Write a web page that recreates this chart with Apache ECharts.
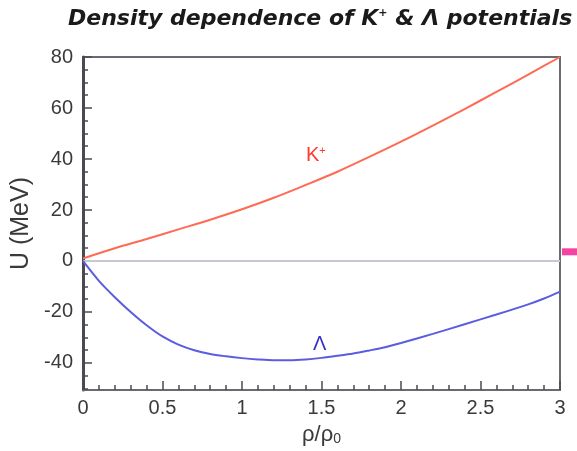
<!DOCTYPE html>
<html><head><meta charset="utf-8">
<script src="https://cdn.jsdelivr.net/npm/echarts@6/dist/echarts.min.js"></script>
<style>html,body{margin:0;padding:0;background:#fff}#c{width:577px;height:451px}</style>
</head><body><div id="c"></div>
<script>
// ---- data ----
var rhoK = [0, 0.2, 0.4, 0.6, 0.8, 1.0, 1.2, 1.4, 1.6, 1.8, 2.0, 2.2, 2.4, 2.6, 2.8, 3.0];
var kaonU = [1, 5, 8.6, 12.4, 16.2, 20.3, 24.8, 29.8, 35, 40.8, 46.8, 53.1, 59.6, 66.3, 73.1, 80];
var rhoL = [0, 0.1, 0.2, 0.3, 0.4, 0.5, 0.6, 0.7, 0.8, 0.9, 1.0, 1.1, 1.2, 1.3, 1.4, 1.5, 1.6, 1.7, 1.8, 1.9, 2.0, 2.2, 2.4, 2.6, 2.8, 2.9, 3.0];
var lambdaU = [0, -7.8, -14.2, -20, -25.2, -29.6, -32.8, -35, -36.5, -37.4, -38.1, -38.6, -38.9, -38.9, -38.6, -38.0, -37.2, -36.3, -35.1, -33.8, -32.2, -28.6, -24.8, -21.0, -17.0, -14.7, -12.0];
var markerPoint = [[3.0, 3.6]];
var xMajorTicks = [0, 0.5, 1, 1.5, 2, 2.5, 3];
var xMinorTicks = [0,0.1,0.2,0.3,0.4,0.5,0.6,0.7,0.8,0.9,1,1.1,1.2,1.3,1.4,1.5,1.6,1.7,1.8,1.9,2,2.1,2.2,2.3,2.4,2.5,2.6,2.7,2.8,2.9,3];
var yMajorTicks = [-40, -20, 0, 20, 40, 60, 80];
var yMinorTicks = [-50,-45,-40,-35,-30,-25,-20,-15,-10,-5,0,5,10,15,20,25,30,35,40,45,50,55,60,65,70,75,80];

function pairs(xs, ys){ return xs.map(function(x,i){return [x, ys[i]];}); }

var chart = echarts.init(document.getElementById('c'), null, {renderer:'canvas'});
var font = 'Liberation Sans, Arial, Helvetica, sans-serif';
var tfont = 'DejaVu Sans, Liberation Sans, sans-serif';
var axCol = '#4a4a52';
var xMin = 0, xMax = 3, yMin = -50.6, yMax = 80;

chart.setOption({
  animation: false,
  backgroundColor: '#ffffff',
  title: {
    text: 'Density dependence of K{sup|+} & Λ potentials',
    left: 63, top: 3,
    textStyle: {
      fontFamily: tfont, fontSize: 22, fontWeight: 'bold', fontStyle: 'italic', color: '#1a1a1a',
      rich: { sup: { fontFamily: tfont, fontSize: 11, fontWeight: 'bold', fontStyle: 'italic', color: '#1a1a1a', verticalAlign: 'top', padding: [0,0,8,0] } }
    }
  },
  grid: { left: 83, right: 17, top: 57, bottom: 60, show: true, borderColor: '#6a6a72', borderWidth: 2, backgroundColor: 'transparent' },
  xAxis: [
    { type: 'value', min: xMin, max: xMax, position: 'bottom',
      axisLine: { show: true, onZero: false, lineStyle: { color: '#6a6a72', width: 2 } },
      axisTick: { show: true, inside: true, length: 9, customValues: xMajorTicks, lineStyle: { color: axCol, width: 1.5 } },
      axisLabel: { customValues: xMajorTicks, fontFamily: font, fontSize: 20, color: '#3a3a3a', margin: 8,
        formatter: function(v){ return String(v); } },
      splitLine: { show: false },
      name: '{r|ρ/ρ}{s|0}', nameLocation: 'middle', nameGap: 34,
      nameTextStyle: { fontFamily: font, fontSize: 22, color: '#3a3a3a',
        rich: { r: { fontFamily: font, fontSize: 22, color: '#3a3a3a' }, s: { fontFamily: font, fontSize: 14, color: '#3a3a3a', verticalAlign: 'bottom', padding: [8,0,0,0] } } }
    },
    { type: 'value', min: xMin, max: xMax, position: 'bottom',
      axisLine: { show: false, onZero: false },
      axisTick: { show: true, inside: true, length: 5, customValues: xMinorTicks, lineStyle: { color: axCol, width: 1.5 } },
      axisLabel: { show: false }, splitLine: { show: false } }
  ],
  yAxis: [
    { type: 'value', min: yMin, max: yMax, position: 'left',
      axisLine: { show: true, onZero: false, lineStyle: { color: axCol, width: 3 } },
      axisTick: { show: true, inside: true, length: 9, customValues: yMajorTicks, lineStyle: { color: axCol, width: 1.5 } },
      axisLabel: { customValues: yMajorTicks, fontFamily: font, fontSize: 20, color: '#3a3a3a', margin: 10 },
      splitLine: { show: false },
      name: 'U (MeV)', nameLocation: 'middle', nameGap: 37, nameRotate: 90,
      nameTextStyle: { fontFamily: font, fontSize: 25, color: '#3a3a3a' }
    },
    { type: 'value', min: yMin, max: yMax, position: 'left',
      axisLine: { show: false, onZero: false },
      axisTick: { show: true, inside: true, length: 5, customValues: yMinorTicks, lineStyle: { color: axCol, width: 1.5 } },
      axisLabel: { show: false }, splitLine: { show: false } }
  ],
  series: [
    { name: 'zero', type: 'line', data: [[xMin,0],[xMax,0]], symbol: 'none', silent: true,
      lineStyle: { color: '#c8c8d2', width: 2 }, z: 1 },
    { name: 'K+', type: 'line', data: pairs(rhoK, kaonU), symbol: 'none', smooth: 0.3,
      lineStyle: { color: '#ff6a55', width: 2 }, z: 3 },
    { name: 'Lambda', type: 'line', data: pairs(rhoL, lambdaU), symbol: 'none', smooth: 0.3,
      lineStyle: { color: '#5c5ce0', width: 2 }, z: 3 },
    { name: 'marker', type: 'scatter', data: markerPoint, symbol: 'rect', symbolSize: [16, 7], symbolOffset: [10, 0],
      clip: false, itemStyle: { color: '#f0148c' }, z: 4 }
  ],
  graphic: [
    { type: 'text', left: 306, top: 145, style: { text: '{k|K}{p|+}', rich: {
        k: { fontFamily: font, fontSize: 20, fill: '#ff3a28' },
        p: { fontFamily: font, fontSize: 11, fill: '#ff3a28', verticalAlign: 'top', padding: [0,0,9,0] } } } },
    { type: 'text', left: 313, top: 334, style: { text: 'Λ', fontFamily: font, fontSize: 20, fill: '#3434c0' } }
  ]
});
</script></body></html>
